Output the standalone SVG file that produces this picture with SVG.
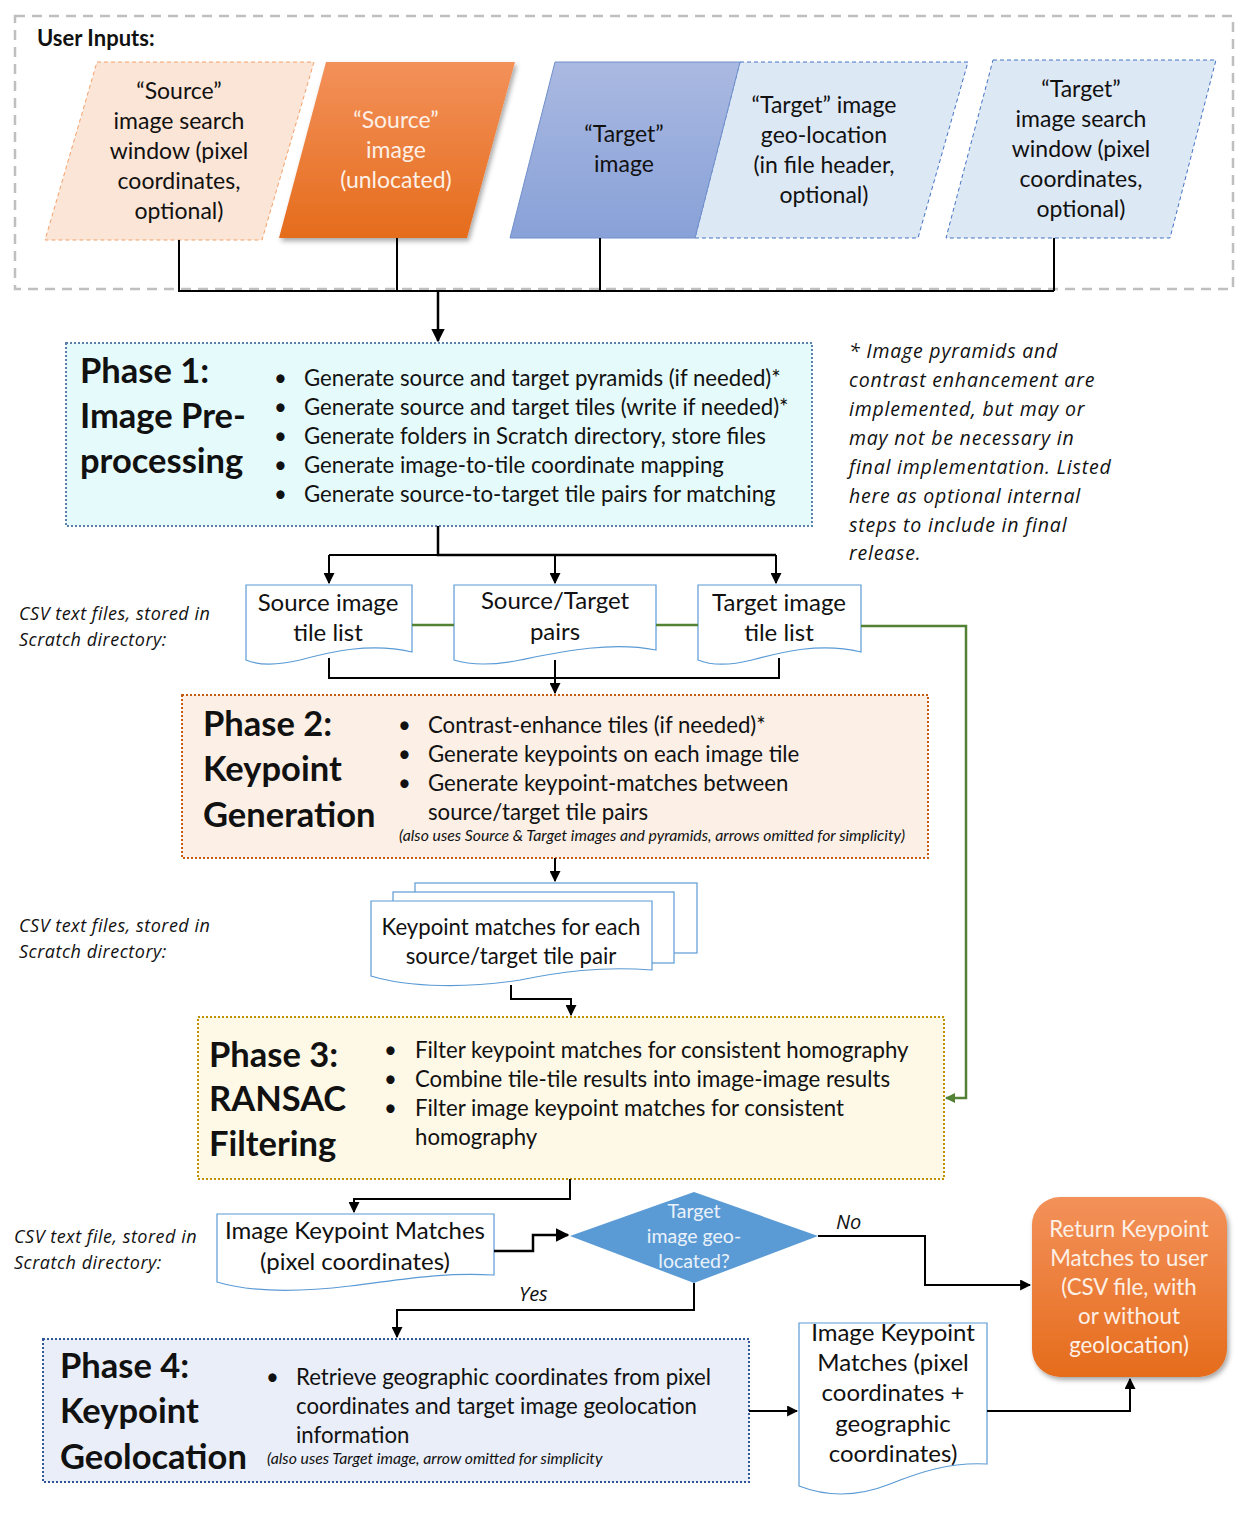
<svg xmlns="http://www.w3.org/2000/svg" width="1248" height="1536" viewBox="0 0 1248 1536">
<defs>
<linearGradient id="gOr" x1="0" y1="0" x2="0" y2="1"><stop offset="0" stop-color="#f3915a"/><stop offset="1" stop-color="#e56c1c"/></linearGradient>
<linearGradient id="gBl" x1="0" y1="0" x2="0" y2="1"><stop offset="0" stop-color="#aab9e1"/><stop offset="1" stop-color="#88a1d8"/></linearGradient>
<filter id="sh" x="-10%" y="-10%" width="130%" height="130%"><feDropShadow dx="2" dy="3" stdDeviation="2.5" flood-color="#000" flood-opacity="0.35"/></filter>
<marker id="ab" viewBox="0 0 10 10" refX="9" refY="5" markerWidth="5.5" markerHeight="5.5" orient="auto" markerUnits="strokeWidth"><path d="M0,0 L10,5 L0,10 Z" fill="#000"/></marker>
<marker id="ag" viewBox="0 0 10 10" refX="9" refY="5" markerWidth="4" markerHeight="4" orient="auto" markerUnits="strokeWidth"><path d="M0,0 L10,5 L0,10 Z" fill="#548235"/></marker>
<style>
text{font-family:Lato,"Liberation Sans",sans-serif;fill:#111}
.c{text-anchor:middle}
.p{font-size:23px}
.d{font-size:24px}
.w{fill:#fdf0e6}
.t{font-size:34.5px;font-weight:bold}
.b{font-size:22.2px}
.i{font-family:"Open Sans","Liberation Sans",sans-serif;font-style:italic;font-size:18px;letter-spacing:0.5px}
.n{font-family:"Open Sans","Liberation Sans",sans-serif;font-style:italic;font-size:19.5px;letter-spacing:0.8px}
.s{font-style:italic;font-size:15.8px}
.doc{fill:#fff;stroke:#5b9bd5;stroke-width:1.2}
.ln{fill:none;stroke:#000;stroke-width:2}
.lnb{fill:none;stroke:#000;stroke-width:2.5}
.gr{fill:none;stroke:#548235;stroke-width:2.5}
</style>
</defs>

<g id="user-inputs">
<rect x="15" y="16" width="1218" height="273" fill="none" stroke="#bfbfbf" stroke-width="2.5" stroke-dasharray="10,7"/>
<text x="37" y="46" style="font-size:22px;font-weight:bold">User Inputs:</text>
</g>

<g id="src-window">
<polygon points="97,62 314,62 262,240 45,240" fill="#fbe5d6" stroke="#f4a06a" stroke-width="1" stroke-dasharray="4,3"/>
<text class="p c" x="179" y="99">“Source”</text>
<text class="p c" x="179" y="129">image search</text>
<text class="p c" x="179" y="159">window (pixel</text>
<text class="p c" x="179" y="189">coordinates,</text>
<text class="p c" x="179" y="219">optional)</text>
</g>

<g id="src-image">
<polygon points="326,62 515,62 467,238 279,238" fill="url(#gOr)" filter="url(#sh)"/>
<text class="p c w" x="396" y="128">“Source”</text>
<text class="p c w" x="396" y="158">image</text>
<text class="p c w" x="396" y="188">(unlocated)</text>
</g>

<g id="tgt-geo">
<polygon points="740,62 968,62 918,238 695,238" fill="#dde8f5" stroke="#4472c4" stroke-width="1" stroke-dasharray="4,3"/>
<text class="p c" x="824" y="113">“Target” image</text>
<text class="p c" x="824" y="143">geo-location</text>
<text class="p c" x="824" y="173">(in file header,</text>
<text class="p c" x="824" y="203">optional)</text>
</g>

<g id="tgt-image">
<polygon points="555,62 740,62 695,238 510,238" fill="url(#gBl)" stroke="#6f8fcb" stroke-width="1"/>
<text class="p c" x="624" y="142">“Target”</text>
<text class="p c" x="624" y="172">image</text>
</g>

<g id="tgt-window">
<polygon points="993,60 1216,60 1170,238 946,238" fill="#dde8f5" stroke="#4472c4" stroke-width="1" stroke-dasharray="4,3"/>
<text class="p c" x="1081" y="97">“Target”</text>
<text class="p c" x="1081" y="127">image search</text>
<text class="p c" x="1081" y="157">window (pixel</text>
<text class="p c" x="1081" y="187">coordinates,</text>
<text class="p c" x="1081" y="217">optional)</text>
</g>

<g id="phase1">
<rect x="66" y="343" width="746" height="183" fill="#e5fafa" stroke="#5b7fa8" stroke-width="2" stroke-dasharray="2,2"/>
<text class="t" x="80" y="383">Phase 1:</text>
<text class="t" x="80" y="428">Image Pre-</text>
<text class="t" x="80" y="473">processing</text>
<g class="b">
<text x="274" y="386">•</text><text x="304" y="386">Generate source and target pyramids (if needed)*</text>
<text x="274" y="415">•</text><text x="304" y="415">Generate source and target tiles (write if needed)*</text>
<text x="274" y="444">•</text><text x="304" y="444">Generate folders in Scratch directory, store files</text>
<text x="274" y="473">•</text><text x="304" y="473">Generate image-to-tile coordinate mapping</text>
<text x="274" y="502">•</text><text x="304" y="502">Generate source-to-target tile pairs for matching</text>
</g>
</g>

<g id="note">
<text class="n" x="849" y="358">* Image pyramids and</text>
<text class="n" x="849" y="387">contrast enhancement  are</text>
<text class="n" x="849" y="416">implemented, but may or</text>
<text class="n" x="849" y="445">may not be necessary  in</text>
<text class="n" x="849" y="474">final implementation. Listed</text>
<text class="n" x="849" y="503">here as optional internal</text>
<text class="n" x="849" y="532">steps to include in final</text>
<text class="n" x="849" y="560">release.</text>
</g>

<g id="csv-label-1">
<text class="i" x="19" y="620">CSV text files, stored in</text>
<text class="i" x="19" y="646">Scratch directory:</text>
</g>

<g id="src-tile-list">
<path class="doc" d="M246,585 H412 V652 C370,642 330,652 300,660 C275,666 258,665 246,660 Z"/>
<text class="d c" x="328" y="611">Source image</text>
<text class="d c" x="328" y="641">tile list</text>
</g>
<g id="pairs">
<path class="doc" d="M454,585 H656 V650 C610,641 560,652 520,660 C490,666 470,665 454,660 Z"/>
<text class="d c" x="555" y="609">Source/Target</text>
<text class="d c" x="555" y="640">pairs</text>
</g>
<g id="tgt-tile-list">
<path class="doc" d="M698,585 H861 V652 C820,642 782,652 752,660 C728,666 710,665 698,660 Z"/>
<text class="d c" x="779" y="611">Target image</text>
<text class="d c" x="779" y="641">tile list</text>
</g>

<g id="phase2">
<rect x="182" y="695" width="746" height="163" fill="#fbefe6" stroke="#c55a11" stroke-width="2" stroke-dasharray="2,2"/>
<text class="t" x="203" y="736">Phase 2:</text>
<text class="t" x="203" y="781">Keypoint</text>
<text class="t" x="203" y="827">Generation</text>
<g class="b">
<text x="398" y="733">•</text><text x="428" y="733">Contrast-enhance tiles (if needed)*</text>
<text x="398" y="762">•</text><text x="428" y="762">Generate keypoints on each image tile</text>
<text x="398" y="791">•</text><text x="428" y="791">Generate keypoint-matches between</text>
<text x="428" y="820">source/target tile pairs</text>
</g>
<text class="s" x="399" y="841">(also uses Source &amp; Target images and pyramids, arrows  omitted for simplicity)</text>
</g>

<g id="csv-label-2">
<text class="i" x="19" y="932">CSV text files, stored in</text>
<text class="i" x="19" y="958">Scratch directory:</text>
</g>

<g id="kp-matches">
<rect x="415" y="883" width="282" height="70" fill="#fff" stroke="#5b9bd5" stroke-width="1.2"/>
<rect x="393" y="892" width="281" height="71" fill="#fff" stroke="#5b9bd5" stroke-width="1.2"/>
<path class="doc" d="M371,901 H652 V970 C600,966 560,972 520,980 C470,988 410,988 371,976 Z"/>
<text class="c" x="511" y="935" style="font-size:22.2px">Keypoint matches for each</text>
<text class="c" x="511" y="964" style="font-size:22.2px">source/target tile pair</text>
</g>

<g id="phase3">
<rect x="198" y="1017" width="746" height="162" fill="#fef8e6" stroke="#bf9000" stroke-width="2" stroke-dasharray="2,2"/>
<text class="t" x="209" y="1067">Phase 3:</text>
<text class="t" x="209" y="1111">RANSAC</text>
<text class="t" x="209" y="1156">Filtering</text>
<g class="b">
<text x="384" y="1058">•</text><text x="415" y="1058">Filter keypoint matches for consistent homography</text>
<text x="384" y="1087">•</text><text x="415" y="1087">Combine tile-tile results into image-image results</text>
<text x="384" y="1116">•</text><text x="415" y="1116">Filter image keypoint matches for consistent</text>
<text x="415" y="1145">homography</text>
</g>
</g>

<g id="csv-label-3">
<text class="i" x="14" y="1243">CSV text file, stored in</text>
<text class="i" x="14" y="1269">Scratch directory:</text>
</g>

<g id="img-kp-matches">
<path class="doc" d="M217,1214 H494 V1275 C440,1272 400,1280 350,1286 C300,1292 250,1292 217,1282 Z"/>
<text class="d c" x="355" y="1239">Image Keypoint Matches</text>
<text class="d c" x="355" y="1270">(pixel coordinates)</text>
</g>

<g id="decision">
<polygon points="570,1236 694,1192 818,1236 694,1283" fill="#5b9bd5"/>
<text class="c" x="694" y="1218" style="font-size:19.5px;fill:#eaf2fb">Target</text>
<text class="c" x="694" y="1243" style="font-size:19.5px;fill:#eaf2fb">image geo-</text>
<text class="c" x="694" y="1268" style="font-size:19.5px;fill:#eaf2fb">located?</text>
</g>

<g id="return">
<rect x="1032" y="1197" width="195" height="180" rx="28" fill="url(#gOr)" filter="url(#sh)"/>
<text class="c w" x="1129" y="1237" style="font-size:22.3px">Return Keypoint</text>
<text class="c w" x="1129" y="1266" style="font-size:22.3px">Matches to user</text>
<text class="c w" x="1129" y="1295" style="font-size:22.3px">(CSV file, with</text>
<text class="c w" x="1129" y="1324" style="font-size:22.3px">or without</text>
<text class="c w" x="1129" y="1353" style="font-size:22.3px">geolocation)</text>
</g>

<g id="phase4">
<rect x="43" y="1339" width="706" height="143" fill="#e9eef8" stroke="#2f5597" stroke-width="2" stroke-dasharray="2,2"/>
<text class="t" x="60" y="1378">Phase 4:</text>
<text class="t" x="60" y="1423">Keypoint</text>
<text class="t" x="60" y="1469">Geolocation</text>
<g class="b">
<text x="266" y="1385">•</text><text x="296" y="1385">Retrieve geographic coordinates from pixel</text>
<text x="296" y="1414">coordinates and target image geolocation</text>
<text x="296" y="1443">information</text>
</g>
<text class="s" x="267" y="1464">(also uses Target image, arrow  omitted for simplicity</text>
</g>

<g id="geo-matches">
<path class="doc" d="M799,1323 H987 V1464 C950,1462 920,1472 890,1484 C860,1496 830,1498 799,1486 Z"/>
<text class="d c" x="893" y="1341">Image Keypoint</text>
<text class="d c" x="893" y="1371">Matches (pixel</text>
<text class="d c" x="893" y="1401">coordinates +</text>
<text class="d c" x="893" y="1432">geographic</text>
<text class="d c" x="893" y="1462">coordinates)</text>
</g>

<g id="connectors">
<path class="ln" d="M179,240 V291 H1054 M397,238 V291 M600,238 V291 M1054,238 V291"/>
<path class="lnb" d="M438,291 V341" marker-end="url(#ab)"/>
<path class="lnb" d="M438,526 V555 H776"/>
<path class="ln" d="M329,555 H438"/>
<path class="ln" d="M329,555 V583" marker-end="url(#ab)"/>
<path class="ln" d="M555,555 V583" marker-end="url(#ab)"/>
<path class="ln" d="M776,555 V583" marker-end="url(#ab)"/>
<path class="gr" d="M412,625 H454 M656,625 H698"/>
<path class="gr" d="M861,626 H966 V1098 H946" marker-end="url(#ag)"/>
<path class="ln" d="M329,658 V678 H779 V658"/>
<path class="ln" d="M555,660 V693" marker-end="url(#ab)"/>
<path class="ln" d="M555,858 V881" marker-end="url(#ab)"/>
<path class="ln" d="M511,985 V999 H571 V1015" marker-end="url(#ab)"/>
<path class="ln" d="M570,1179 V1199 H354 V1212" marker-end="url(#ab)"/>
<path class="lnb" d="M494,1251 H533 V1235 H568" marker-end="url(#ab)"/>
<path class="ln" d="M818,1236 H925 V1285 H1030" marker-end="url(#ab)"/>
<path class="ln" d="M694,1283 V1310 H397 V1337" marker-end="url(#ab)"/>
<path class="ln" d="M749,1411 H797" marker-end="url(#ab)"/>
<path class="ln" d="M987,1411 H1130 V1379" marker-end="url(#ab)"/>
<text class="n" x="836" y="1229" style="font-size:20px;letter-spacing:0">No</text>
<text class="n" x="519" y="1301" style="font-size:20px;letter-spacing:0">Yes</text>
</g>
</svg>
